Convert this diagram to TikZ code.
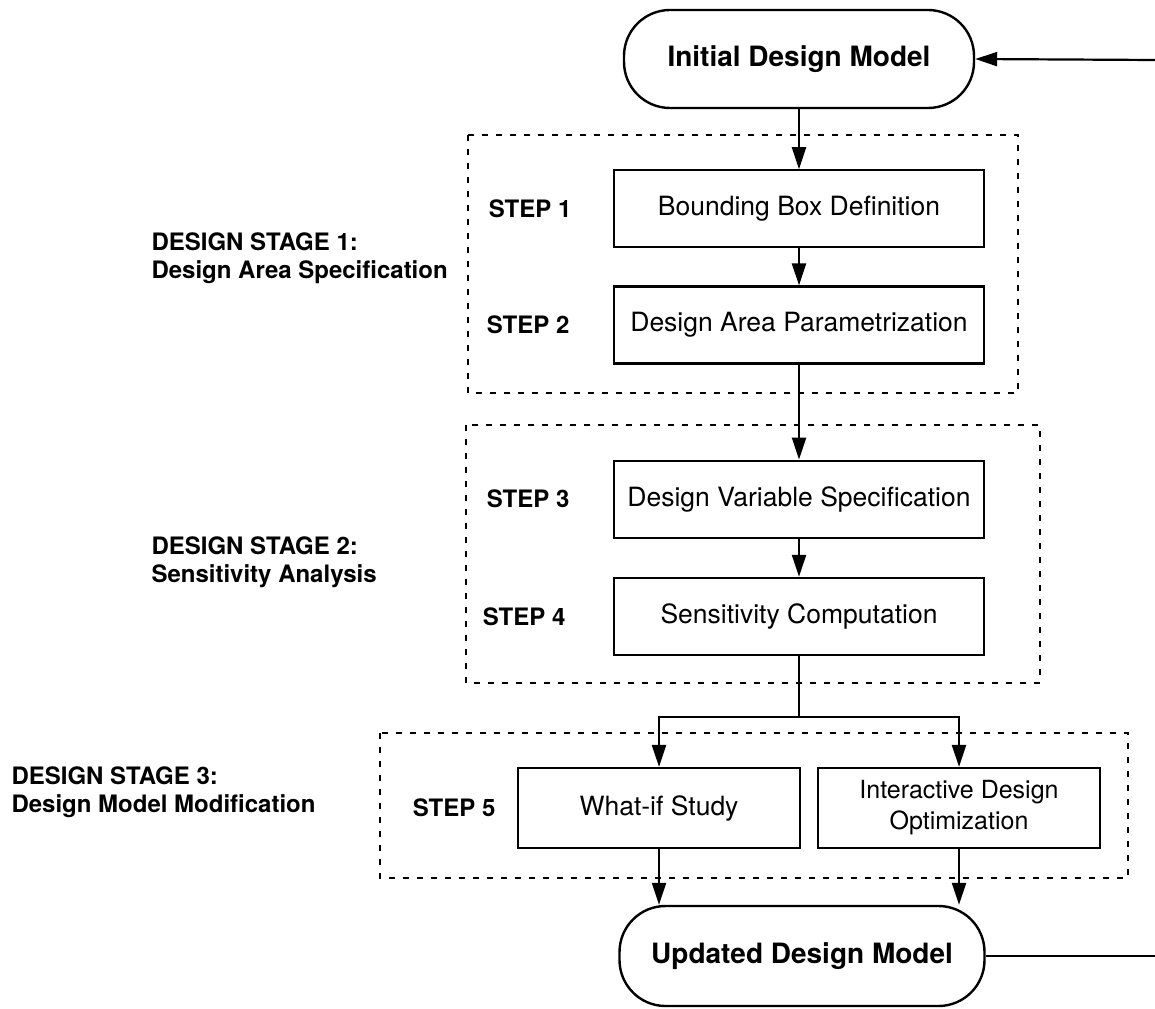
\documentclass[tikz,border=0pt]{standalone}
\usepackage{fontspec}
\setmainfont{TeX Gyre Heros}
\usepackage{tikz}
\usetikzlibrary{arrows.meta, positioning, calc}

\tikzset{
    stepbox/.style={rectangle, draw, line width=2.2pt, minimum width=370pt, minimum height=77pt, align=center, font=\fontsize{26.5}{31}\selectfont},
    terminal/.style={rectangle, draw, line width=2.4pt, rounded corners=46pt, minimum width=350pt, minimum height=98pt, font=\bfseries\fontsize{28}{33}\selectfont},
    stagebox/.style={draw, line width=2.4pt, dash pattern=on 6pt off 8pt},
    steplabel/.style={font=\bfseries\fontsize{24}{29}\selectfont},
    stagelabel/.style={anchor=west, align=left, font=\bfseries\fontsize{24}{28}\selectfont},
    arrow/.style={-{Triangle[length=22pt, width=14pt]}, line width=2.2pt}
}

\begin{document}
\begin{tikzpicture}[x=1pt, y=-1pt, node distance=37pt]
    \useasboundingbox (0,0) rectangle (1155,1008);

    % design model terminals
    \node[terminal] (init) at (799,59) {Initial Design Model};
    \node[terminal, minimum width=365pt, minimum height=100pt] (updated) at (802,956) {Updated Design Model};

    % stage 1
    \node[stepbox, below=60pt of init] (bbox) {Bounding Box Definition};
    \node[stepbox, below=of bbox] (param) {Design Area Parametrization};
    % stage 2
    \node[stepbox, below=95pt of param] (varspec) {Design Variable Specification};
    \node[stepbox, below=38pt of varspec] (senscomp) {Sensitivity Computation};
    % stage 3
    \node[stepbox, minimum width=282pt, minimum height=80pt] (whatif) at (659,808) {What-if Study};
    \node[stepbox, minimum width=282pt, minimum height=80pt, font=\fontsize{25}{31}\selectfont] (optim) at (959,808) {Interactive Design\\Optimization};

    \node[steplabel, left=38pt of bbox] (s1) {STEP 1};
    \node[steplabel, left=40pt of param] (s2) {STEP 2};
    \node[steplabel, left=40pt of varspec] (s3) {STEP 3};
    \node[steplabel, left=44pt of senscomp] (s4) {STEP 4};
    \node[steplabel, left=18pt of whatif] (s5) {STEP 5};

    \draw[stagebox] (468,135) rectangle (1018,393);
    \draw[stagebox] (466,425) rectangle (1040,683);
    \draw[stagebox] (380,733) rectangle (1128,878);

    \node[stagelabel] (stage1) at (148,258) {DESIGN STAGE 1:\\Design Area Specification};
    \node[stagelabel] (stage2) at (148,562) {DESIGN STAGE 2:\\Sensitivity Analysis};
    \node[stagelabel] (stage3) at (8,792) {DESIGN STAGE 3:\\Design Model Modification};

    \draw[arrow] (init) -- (bbox);
    \draw[arrow] (bbox) -- (param);
    \draw[arrow] (param) -- (varspec);
    \draw[arrow] (varspec) -- (senscomp);
    \draw[arrow] (senscomp.south) -- ++(0,61) -| (whatif.north);
    \draw[arrow] (senscomp.south) -- ++(0,61) -| (optim.north);
    \draw[arrow] (whatif.south) -- (whatif.south |- updated.north);
    \draw[arrow] (optim.south) -- (optim.south |- updated.north);

    % feedback loop, cut at the right edge
    \coordinate (loopin) at (1155,60);
    \coordinate (loopout) at (1155,956);
    \draw[arrow] (loopin) -- (init.east);
    \draw[line width=2.2pt] (updated.east) -- (loopout);
\end{tikzpicture}
\end{document}
